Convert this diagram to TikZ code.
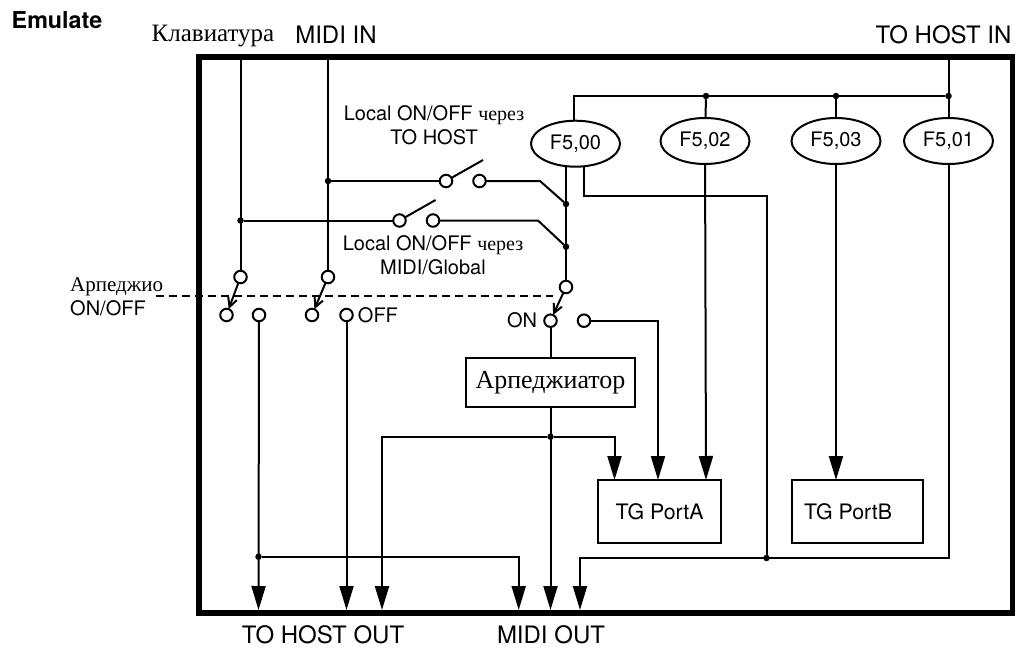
\documentclass[tikz,border=0pt]{standalone}
\usepackage{fontspec}
\setmainfont{TeX Gyre Heros}
\newfontfamily\rufont{Liberation Serif}
\usetikzlibrary{shapes,arrows.meta,positioning}

\begin{document}
\begin{tikzpicture}[
  x=1pt, y=-1pt,
  wire/.style={line width=2pt, line join=miter},
  arr/.style={wire, -{Triangle[length=24pt,width=14pt]}},
  blade/.style={line width=2pt, -{Straight Barb[length=9pt,width=9pt]}},
  contact/.style={circle, draw, line width=2pt, fill=white, minimum size=12.5pt, inner sep=0pt, outer sep=0pt},
  junc/.style={circle, fill=black, minimum size=6.5pt, inner sep=0pt, outer sep=0pt},
  msg/.style={ellipse, draw, line width=2pt, minimum width=89pt, minimum height=46pt, inner sep=0pt, outer sep=0pt, font=\fontsize{20}{24}\selectfont},
  blk/.style={rectangle, draw, line width=2pt, inner sep=0pt, outer sep=0pt},
  labl/.style={font=\fontsize{20}{24}\selectfont, inner sep=0pt, align=center},
  port/.style={font=\fontsize{24}{28}\selectfont, inner sep=0pt},
]
\useasboundingbox (0,0) rectangle (1015,648);
\draw[line width=6pt, miter limit=10] (198.5,56.5) rectangle (1013,613);

\node[inner sep=0pt, font=\fontsize{23.3}{28}\selectfont\bfseries] (title) at (57,20.5) {Emulate};
\node[port, font=\fontsize{25}{28}\selectfont\rufont] (kbd) at (213,36) {Клавиатура};
\node[port] (midiin) at (336,35) {MIDI IN};
\node[port] (hostin) at (943.5,35) {TO HOST IN};
\node[port] (hostout) at (323,635) {TO HOST OUT};
\node[port] (midiout) at (551,635) {MIDI OUT};

\node[msg] (f500) at (575.5,143.7) {F5,00};
\node[msg] (f502) at (705,141) {F5,02};
\node[msg] (f503) at (836,141) {F5,03};
\node[msg] (f501) at (948.5,141) {F5,01};

\node[blk, minimum width=169pt, minimum height=48.5pt, font=\fontsize{26}{28}\selectfont\rufont] (arp) at (550.5,382.5) {Арпеджиатор};
\node[blk, minimum width=123pt, minimum height=62.5pt, font=\fontsize{21.3}{24}\selectfont] (tga) at (659.5,511.5) {TG PortA};
\node[blk, minimum width=131pt, minimum height=62.5pt] (tgb) at (857.5,511.5) {};
\node[inner sep=0pt, font=\fontsize{21.3}{24}\selectfont] (tgbtext) at (848,511.5) {TG PortB};

\node[contact] (kcom) at (240.5,277) {};
\node[contact] (kon) at (226.5,315) {};
\node[contact, right=20pt of kon] (koff) {};
\node[contact] (mcom) at (328,277) {};
\node[contact] (mon) at (312,315) {};
\node[contact, right=22pt of mon] (moff) {};
\node[contact] (acom) at (566,287) {};
\node[contact] (aon) at (550.5,320.7) {};
\node[contact, right=21pt of aon] (aoff) {};
\node[contact] (la) at (446,181) {};
\node[contact, right=21pt of la] (lb) {};
\node[contact] (lc) at (399.5,220.5) {};
\node[contact, right=21pt of lc] (ld) {};

\node[labl] (lochost) at (434,125) {Local ON/OFF {\rufont через}\\TO HOST};
\node[labl] (locglob) at (433,255) {Local ON/OFF {\rufont через}\\MIDI/Global};
\node[labl, align=left, anchor=north west] (arpsw) at (70,277) {{\fontsize{21}{24}\selectfont\rufont Арпеджио}\\ON/OFF};
\node[labl, right=5pt of moff] (offl) {OFF};
\node[labl, left=7pt of aon] (onl) {ON};

\node[junc] (j1) at (240.5,220.5) {};
\node[junc] (j2) at (328,181) {};
\node[junc] (j3) at (566,204) {};
\node[junc] (j4) at (566,246.7) {};
\node[junc] (j5) at (706,96) {};
\node[junc] (j6) at (836,96) {};
\node[junc] (j7) at (948.5,96) {};
\node[junc] (j8) at (550.5,436.7) {};
\node[junc] (j9) at (258.5,556.7) {};
\node[junc] (j10) at (766.5,558) {};

\coordinate (ktop) at (240.5,58);
\coordinate (mtop) at (328,58);
\coordinate (htop) at (948.5,58);
\coordinate (lbend) at (540,181);
\coordinate (dbend) at (538,220.5);
\coordinate (lfree) at (483,160);
\coordinate (dfree) at (435.5,200);
\coordinate (dashl) at (156,296);
\coordinate (dashr) at (553,296);
\coordinate (fa) at (566,166.5);
\coordinate (fb) at (584,166.5);
\coordinate (fc) at (584,196);
\coordinate (bus) at (573.7,96);
\coordinate (hout1) at (258.5,610);
\coordinate (hout2) at (346.5,610);
\coordinate (hout3) at (382,610);
\coordinate (mout1) at (518.7,610);
\coordinate (mout2) at (550.5,610);
\coordinate (mout3) at (580,610);
\coordinate (aoffin) at (658,480);
\coordinate (arpin) at (614.5,480);
\coordinate (t2) at (706,480);
\coordinate (t3) at (836,480);
\coordinate (hl) at (580,558);

\draw[wire] (ktop) -- (kcom);
\draw[wire] (mtop) -- (mcom);
\draw[blade] (kcom) -- (kon);
\draw[blade] (mcom) -- (mon);
\draw[blade] (acom) -- (aon);
\draw[wire] (j2) -- (la);
\draw[wire] (j1) -- (lc);
\draw[wire] (la) -- (lfree);
\draw[wire] (lc) -- (dfree);
\draw[wire] (lb) -- (lbend) -- (j3);
\draw[wire] (ld) -- (dbend) -- (j4);
\draw[wire] (fa) -- (acom);
\draw[dashed, line width=2pt, dash pattern=on 8pt off 5pt] (dashl) -- (dashr);

\draw[wire] (htop) -- (f501);
\draw[wire] (f500.north -| bus) -- (bus) -- (j7);
\draw[wire] (j5) -- (f502);
\draw[wire] (j6) -- (f503);
\draw[wire] (fb) -- (fc) -| (j10);
\draw[arr] (f502) -- (t2);
\draw[arr] (f503) -- (t3);
\draw[arr] (f501) |- (hl) -- (mout3);

\draw[wire] (aon) -- (arp.north -| aon);
\draw[arr] (aoff) -| (aoffin);
\draw[arr] (arp.south -| aon) -- (mout2);
\draw[arr] (j8) -| (arpin);
\draw[arr] (j8) -| (hout3);
\draw[arr] (koff) -- (hout1);
\draw[arr] (moff) -- (hout2);
\draw[arr] (j9) -| (mout1);

\end{tikzpicture}
\end{document}
